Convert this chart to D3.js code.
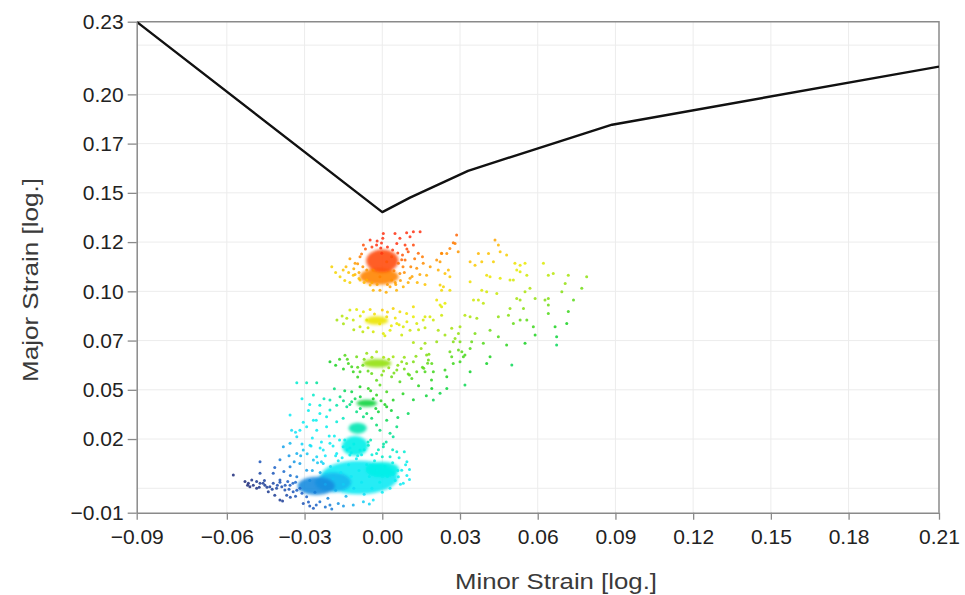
<!DOCTYPE html>
<html>
<head>
<meta charset="utf-8">
<script src="https://cdn.jsdelivr.net/npm/d3@7"></script>
<style>
body { margin: 0; background: #fff; }
svg { display: block; font-family: "Liberation Sans", Arial, sans-serif; }
</style>
</head>
<body>
<div id="chart"></div>
<script>
// axis limits and ticks (the end labels are the rounded limits)
var xDomain = [-0.0948, 0.2149];
var yDomain = [-0.0124, 0.2369];
var xTicks = [-0.0948, -0.06, -0.03, 0, 0.03, 0.06, 0.09, 0.12, 0.15, 0.18, 0.2149];
var xTickLabels = ['\u22120.09', '\u22120.06', '\u22120.03', '0.00', '0.03', '0.06', '0.09', '0.12', '0.15', '0.18', '0.21'];
var xGrid = [-0.06, -0.03, 0, 0.03, 0.06, 0.09, 0.12, 0.15, 0.18];
var yTicks = [-0.0124, 0.025, 0.05, 0.075, 0.1, 0.125, 0.15, 0.175, 0.2, 0.2369];
var yTickLabels = ['\u22120.01', '0.02', '0.05', '0.07', '0.10', '0.12', '0.15', '0.17', '0.20', '0.23'];
var yGrid = [0, 0.025, 0.05, 0.075, 0.1, 0.125, 0.15, 0.175, 0.2, 0.225];

// forming limit curve
var flcMinor = [-0.0948, 0.0, 0.0107, 0.0331, 0.0887, 0.2149];
var flcMajor = [0.2368, 0.1402, 0.1476, 0.1612, 0.1846, 0.2141];

// dense cores of the measured point clouds: [minor, major, half width, half height]
var cores = [
  [-0.009, 0.0055, 0.0150, 0.0085],
  [-0.0190, 0.0030, 0.0070, 0.0050],
  [-0.0255, 0.0012, 0.0072, 0.0046],
  [0.0000, 0.0095, 0.0065, 0.0040],
  [-0.0105, 0.0215, 0.0050, 0.0050],
  [-0.0095, 0.0305, 0.0035, 0.0028],
  [-0.0060, 0.0432, 0.0040, 0.0018],
  [-0.0020, 0.0635, 0.0055, 0.0022],
  [-0.0022, 0.0852, 0.0045, 0.0022],
  [-0.0012, 0.1075, 0.0075, 0.0042],
  [0.0000, 0.1155, 0.0062, 0.0058]
];

var redCloud = [
  [0.0049,0.1293],[0.0094,0.1297],[0.012,0.1302],[0.0146,0.1302],[0.0068,0.1269],[0.0107,0.1277],
  [0.0056,0.1243],[0.0088,0.1235],[0.012,0.1235],[0.0139,0.1193],[0.010,0.1201],[0.0158,0.1142],
  [0.0133,0.1117],[0.0088,0.1159],[0.0171,0.1082],[0.0107,0.1066],[0.0081,0.1023],[0.003,0.1023],
  [-0.0009,0.1006],[-0.0047,0.1032],[-0.0086,0.1057],[-0.0112,0.1082],[-0.0151,0.1108],[-0.0163,0.1074],
  [-0.0073,0.1235],[-0.0047,0.126],[-0.0022,0.1235],[-0.0086,0.1175],[-0.0105,0.1142],[0.0062,0.1142],
  [0.0068,0.1091],[0.0036,0.1057],[-0.006,0.1057],[-0.0002,0.1193],[0.0017,0.115],[-0.0035,0.1108],
  [-0.0009,0.1074],[0.0036,0.1175],[-0.006,0.1108],[0.0004,0.1294],[0.0002,0.127],[-0.0003,0.1245],
  [-0.0006,0.122],[0.0045,0.1105],[-0.0075,0.1125],[0.0078,0.1185],[-0.0125,0.1045],[0.0052,0.1035],
  [-0.011,0.1115],[-0.009,0.1095],[-0.0095,0.114],[-0.008,0.119],[-0.0065,0.1215],[-0.004,0.1225],
  [-0.002,0.1255],[0.002,0.1225],[0.004,0.121],[0.006,0.1195],[0.0075,0.116],[0.008,0.1125],
  [0.0085,0.1095],[0.007,0.1055],[0.005,0.1045],[0.002,0.1035],[-0.002,0.1035],[-0.004,0.1045],
  [-0.007,0.1045],[-0.009,0.1065],[-0.0105,0.1085],[-0.013,0.1095],[-0.014,0.1125],[-0.0125,0.1165],
  [0.011,0.1125],[0.0115,0.1075],[0.010,0.1045],[0.0135,0.1045],[0.0145,0.1085],[0.0125,0.1165],
  [0.0095,0.1215],[-0.0145,0.1055],[-0.018,0.1095],[-0.0195,0.1125],[0.0155,0.1175],[0.0185,0.1125],
  [0.0165,0.1035],[-0.0035,0.1005],[0.0015,0.0995],[0.0055,0.1005]
];

var yellowCloud = [
  [-0.0125,0.0905],[-0.0099,0.0908],[-0.0073,0.0896],[-0.0047,0.0908],[0.0042,0.0913],[0.0068,0.0896],
  [0.0094,0.0888],[0.012,0.0871],[0.0056,0.0837],[0.0081,0.082],[0.003,0.0803],[0.0004,0.0786],
  [-0.0035,0.0795],[-0.0086,0.082],[-0.0112,0.0854],[-0.0137,0.0863],[0.0107,0.0803],[0.0133,0.0837],
  [0.0158,0.0854],[0.0184,0.0871],[0.0017,0.0871],[-0.006,0.0854],[0.0075,0.0778],[0.012,0.0922],
  [-0.0155,0.0875],[-0.015,0.0835],[-0.011,0.0805],[-0.0075,0.0795],[-0.0055,0.0815],[-0.003,0.0885],
  [0.0,0.0905],[0.002,0.0895],[0.005,0.0865],[0.0065,0.083],[0.0035,0.0825],[-0.0085,0.0875],
  [0.0095,0.0845],[0.014,0.0805],[0.0165,0.0815],[-0.0175,0.0855],[0.001,0.0775],[-0.001,0.0835]
];

var limeCloud = [
  [-0.0202,0.0642],[-0.0144,0.0676],[-0.0131,0.0634],[-0.0099,0.0668],[-0.006,0.0685],[-0.0022,0.0693],
  [0.0042,0.0668],[0.0075,0.0642],[0.0094,0.0634],[0.012,0.0642],[0.0056,0.060],[0.0036,0.0566],
  [-0.0002,0.0575],[-0.0041,0.0583],[-0.0086,0.0592],[-0.0112,0.0592],[0.0068,0.0541],[0.0114,0.0558],
  [0.0133,0.0592],[-0.0022,0.0549],[-0.0118,0.0617],[-0.0165,0.0655],[0.0025,0.0612],[-0.0075,0.0625],
  [-0.018,0.0625],[-0.015,0.0605],[-0.0135,0.0655],[-0.0095,0.0615],[-0.007,0.0655],[-0.004,0.0665],
  [0.0005,0.0665],[0.0025,0.0655],[0.006,0.0625],[0.0085,0.0605],[0.0105,0.0575],[0.0155,0.0615],
  [0.0175,0.0635],[-0.0055,0.0595],[0.0005,0.0595],[0.0045,0.0585],[-0.0095,0.0565],[0.0085,0.0665]
];

var greenCloud = [
  [-0.0118,0.049],[-0.0086,0.0515],[-0.0054,0.0507],[-0.0009,0.0524],[0.0017,0.049],[-0.0022,0.0473],
  [-0.0118,0.0439],[-0.0137,0.0414],[-0.0015,0.0388],[-0.006,0.038],[-0.0099,0.0388],[0.0017,0.0414],
  [0.0042,0.0448],[-0.0163,0.0465],[-0.0176,0.0422],[-0.0202,0.0448],[-0.0241,0.0422],[-0.0266,0.0473],
  [-0.033,0.0536],[-0.0292,0.0536],[-0.0253,0.0536],[-0.0202,0.0397],[-0.0215,0.0363],[-0.0241,0.038],
  [-0.0105,0.0455],[-0.0085,0.0465],[-0.0035,0.0455],[-0.0005,0.0445],[0.001,0.0425],[-0.0025,0.0405],
  [-0.0085,0.0405],[-0.0125,0.0425],[-0.015,0.0445],[0.0035,0.0395],[-0.0045,0.0495],[-0.0145,0.0495],
  [-0.0185,0.0505],[-0.0225,0.0455],[-0.028,0.0425],[-0.031,0.0455]
];

var tealCloud = [
  [-0.0176,0.0338],[-0.0151,0.0355],[-0.0041,0.0355],[-0.0022,0.0321],[-0.0009,0.0295],[0.0017,0.0346],
  [0.003,0.0279],[0.0056,0.0312],[-0.0073,0.0363],[-0.0266,0.0346],[-0.0292,0.0312],[-0.0318,0.0295],
  [-0.0253,0.0295],[-0.0215,0.0312],[-0.0356,0.0372],[-0.035,0.0295],[-0.033,0.0262],[-0.0185,0.0265],
  [-0.0145,0.0245],[-0.0055,0.0235],[0.0005,0.0225],[-0.0235,0.0235],[-0.0275,0.0215],[-0.0125,0.0205],
  [-0.0335,0.0285],[-0.0305,0.0335],[-0.0285,0.0395],[-0.0255,0.0345]
];

var cyanCloud = [
  [-0.0382,0.0211],[-0.0356,0.0228],[-0.033,0.0177],[-0.0305,0.0194],[-0.0279,0.0219],[-0.0253,0.016],
  [-0.0228,0.0194],[-0.0202,0.0228],[-0.0176,0.0177],[-0.0151,0.0211],[-0.0125,0.0169],[-0.0086,0.0194],
  [-0.0054,0.0219],[-0.0022,0.0177],[0.0004,0.0211],[0.003,0.016],[0.0056,0.0185],[0.0042,0.0262],
  [0.0075,0.0092],[0.0081,0.0025],[0.0062,0.0058],[-0.0472,0.0135],[-0.0356,0.0109],[-0.0318,0.0126],
  [-0.0292,0.0092],[-0.0266,0.0143],[-0.0228,0.0126],[-0.033,0.0058],
  [-0.028,0.004],[-0.026,-0.002],[-0.024,0.008],[-0.022,0.002],[-0.021,-0.005],[-0.020,0.011],
  [-0.019,0.005],[-0.018,-0.001],[-0.017,0.014],[-0.016,0.008],[-0.015,0.002],[-0.014,-0.004],
  [-0.013,0.012],[-0.012,0.006],[-0.011,0.000],[-0.010,0.015],[-0.009,0.009],[-0.008,0.003],
  [-0.007,-0.003],[-0.006,0.012],[-0.005,0.006],[-0.004,0.000],[-0.003,0.014],[-0.002,0.009],
  [-0.001,0.003],[0.000,-0.002],[0.001,0.011],[0.002,0.006],[0.003,0.000],[0.004,0.013],
  [0.005,0.004],[0.006,0.009],[0.007,0.002],[-0.027,0.009],[-0.025,0.013],[-0.008,0.017],
  [-0.004,0.017],[0.000,0.016],[-0.012,0.018],[0.0095,0.0065],[0.009,0.012],[-0.018,0.0165],
  [-0.036,0.0165],[-0.034,0.0135],[-0.031,0.0225],[-0.029,0.0175],[-0.027,0.0255],[-0.024,0.0205],
  [-0.022,0.0165],[-0.0205,0.0265],[-0.019,0.0215],[-0.0165,0.0245],[-0.0155,0.0155],[-0.0135,0.0195],
  [-0.011,0.0225],[-0.0095,0.0165],[-0.007,0.0195],[-0.0045,0.0245],[-0.0015,0.0195],[0.0015,0.0235],
  [0.004,0.0195],[0.0065,0.0155],[0.0085,0.0185],[0.0095,0.0135],[0.0105,0.0095],[0.0105,0.0045],
  [-0.0395,0.0145],[-0.0415,0.0105],[-0.038,0.0085],[-0.0355,0.0065],[-0.0315,0.0165],[-0.0235,0.0135]
];

var blueTail = [
  [-0.0575,0.0067],[-0.0472,0.0076],[-0.0421,0.0076],[-0.0517,0.0025],[-0.0511,0.0008],[-0.0498,0.0016],
  [-0.0472,0.0025],[-0.0453,0.0016],[-0.0434,0.0008],[-0.0421,0.0025],[-0.0408,0.000],[-0.0388,0.0008],
  [-0.0376,-0.0009],[-0.0356,0.0016],[-0.0344,-0.0018],[-0.0318,0.000],[-0.0395,-0.006],[-0.0369,-0.0035],
  [-0.0292,-0.0043],[-0.0266,-0.0102],[-0.0241,-0.0069],[-0.0305,-0.0077],[-0.0202,-0.0085],[-0.017,-0.0077],
  [-0.0112,-0.0085],[-0.0073,-0.0069],[-0.0035,-0.006],[-0.044,-0.0018],[-0.0485,0.000],[-0.0504,0.0042],
  [-0.0365,0.0035],[-0.0335,0.003],[-0.0395,0.0042],[-0.0455,0.004],[-0.0285,-0.007],[-0.022,-0.0095],
  [-0.053,0.0035],[-0.0485,0.0035],[-0.046,0.0025],[-0.0445,0.0005],[-0.0425,-0.0005],[-0.0405,0.0015],
  [-0.0395,0.003],[-0.0375,0.0015],[-0.036,-0.0005],[-0.0345,0.0025],[-0.033,-0.001],[-0.0335,-0.004],
  [-0.031,-0.0025],[-0.0355,-0.0045],[-0.0415,-0.0035],[-0.0385,-0.0065],[-0.028,-0.009],[-0.0255,-0.0085],
  [-0.0195,-0.0105],[-0.015,-0.009],[-0.005,-0.008],[-0.0475,0.0005],[-0.052,0.0015]
];

var spread = [
  [0.0287,0.1286],[0.0435,0.126],[0.0448,0.1235],[0.0455,0.1201],[0.0274,0.1247],[0.0261,0.1218],
  [0.0249,0.1192],[0.0229,0.1192],[0.0223,0.115],[0.0216,0.1108],[0.0242,0.1091],[0.0261,0.1074],
  [0.0339,0.115],[0.0358,0.1133],[0.0371,0.1192],[0.041,0.1192],[0.0384,0.115],[0.0429,0.115],
  [0.048,0.1184],[0.0512,0.1142],[0.0532,0.1133],[0.0551,0.1142],[0.0519,0.1108],[0.0532,0.1099],
  [0.0558,0.1082],[0.0622,0.1142],[0.0641,0.1082],[0.066,0.1091],[0.0718,0.1082],[0.0789,0.1074],
  [0.0706,0.104],[0.077,0.1015],[0.0693,0.0998],[0.0738,0.0956],[0.0641,0.0964],[0.0628,0.0956],
  [0.059,0.0964],[0.0641,0.093],[0.0641,0.0888],[0.0718,0.0897],[0.0712,0.0837],[0.0667,0.082],
  [0.0673,0.0769],[0.0673,0.0727],[0.059,0.0778],[0.0583,0.082],[0.0558,0.0854],[0.0532,0.0854],
  [0.0506,0.0837],[0.0487,0.0879],[0.0493,0.0913],[0.0519,0.0964],[0.0532,0.0956],[0.0545,0.0913],
  [0.057,0.1015],[0.0551,0.0998],[0.0506,0.1057],[0.0493,0.1057],[0.0455,0.1066],[0.0416,0.1074],
  [0.0403,0.1082],[0.0339,0.1049],[0.0384,0.1006],[0.0403,0.0998],[0.0442,0.0989],[0.0371,0.0956],
  [0.0352,0.0956],[0.039,0.0939],[0.0448,0.0871],[0.0416,0.0803],[0.0358,0.0786],[0.0365,0.0863],
  [0.0339,0.0871],[0.0319,0.0879],[0.030,0.082],[0.0268,0.0812],[0.0294,0.0786],[0.0281,0.0761],
  [0.030,0.0744],[0.0274,0.0744],[0.0223,0.093],[0.0229,0.0922],[0.0229,0.1006],[0.0223,0.1032],
  [0.0197,0.0854],[0.0165,0.0871],[0.0165,0.0736],[0.021,0.0744],[0.0178,0.0651],[0.0191,0.0634],
  [0.0171,0.0677],[0.0197,0.0592],[0.0242,0.060],[0.0249,0.0566],[0.0274,0.0634],[0.030,0.0643],
  [0.0313,0.0668],[0.0307,0.0693],[0.0319,0.0677],[0.0268,0.0668],[0.0261,0.0693],[0.0294,0.0702],
  [0.0339,0.071],[0.0345,0.0744],[0.0339,0.0592],[0.0319,0.0524],[0.039,0.0736],[0.0448,0.0769],
  [0.048,0.0727],[0.0551,0.0736],[0.0416,0.0668],[0.0403,0.0634],[0.050,0.0626],[0.0249,0.0507],
  [0.0223,0.0482],[0.0191,0.0507],[0.0197,0.0448],[0.0165,0.0592],
  [0.021,0.1159],[0.0229,0.1193],[0.0255,0.1108],[0.0236,0.1023],[0.0261,0.1006],[0.0281,0.1243],
  [0.0293,0.1201],[0.021,0.0956],[0.0242,0.0939],[0.0229,0.0879],[0.0216,0.0803],[0.0242,0.0778],
  [0.012,0.074],[0.015,0.071],[0.018,0.068],[0.013,0.067],[0.016,0.061],[0.019,0.055],
  [0.014,0.052],[0.010,0.058],[0.017,0.047],[0.012,0.045],[0.008,0.048],[0.010,0.038],[0.006,0.036]
];

var clouds = [redCloud, yellowCloud, limeCloud, greenCloud, tealCloud, cyanCloud, blueTail, spread];

var W = 965, H = 595;
var svg = d3.select('#chart').append('svg')
    .attr('width', W)
    .attr('height', H);

var x = d3.scaleLinear().domain(xDomain).range([136.7, 939]);
var y = d3.scaleLinear().domain(yDomain).range([512.7, 21.7]);

// jet-like colouring, shifted towards blue where the minor strain is negative
var jet = d3.scaleLinear()
    .domain([-0.06, -0.04, -0.025, -0.01, 0.01, 0.025, 0.04, 0.06, 0.08, 0.095, 0.108, 0.12])
    .range(['#1c2a7a', '#1a5cc4', '#14a0ea', '#10e8f8', '#00f0e8', '#00e090', '#10d020',
            '#8ee010', '#e8ec00', '#ffc000', '#ff7a00', '#ff3010'])
    .clamp(true);
function colorOf(d) {
  var c = d[1] + (d[0] < 0 ? 1.2 * d[0] : -0.6 * d[0]);
  return jet(c);
}

var defs = svg.append('defs');
defs.append('clipPath').attr('id', 'plot')
  .append('rect')
    .attr('x', x(xDomain[0])).attr('y', y(yDomain[1]))
    .attr('width', x(xDomain[1]) - x(xDomain[0]))
    .attr('height', y(yDomain[0]) - y(yDomain[1]));
defs.append('filter').attr('id', 'soft')
    .attr('x', '-50%').attr('y', '-50%').attr('width', '200%').attr('height', '200%')
  .append('feGaussianBlur').attr('stdDeviation', 1.8);

// grid
svg.append('g').selectAll('line')
  .data(xGrid)
  .enter()
  .append('line')
    .attr('x1', function(d){ return x(d); })
    .attr('x2', function(d){ return x(d); })
    .attr('y1', y(yDomain[0]))
    .attr('y2', y(yDomain[1]))
    .attr('stroke', '#ececec');
svg.append('g').selectAll('line')
  .data(yGrid)
  .enter()
  .append('line')
    .attr('y1', function(d){ return y(d); })
    .attr('y2', function(d){ return y(d); })
    .attr('x1', x(xDomain[0]))
    .attr('x2', x(xDomain[1]))
    .attr('stroke', '#ececec');

// frame top and right
svg.append('path')
    .attr('d', 'M' + x(xDomain[0]) + ',' + y(yDomain[1]) + 'H' + x(xDomain[1]) + 'V' + y(yDomain[0]))
    .attr('fill', 'none')
    .attr('stroke', '#8a8a8a')
    .attr('stroke-width', 1.5);

var plot = svg.append('g').attr('clip-path', 'url(#plot)');

// dense cores
plot.append('g').attr('filter', 'url(#soft)')
  .selectAll('ellipse')
  .data(cores)
  .enter()
  .append('ellipse')
    .attr('cx', function(d){ return x(d[0]); })
    .attr('cy', function(d){ return y(d[1]); })
    .attr('rx', function(d){ return x(d[0] + d[2]) - x(d[0]); })
    .attr('ry', function(d){ return y(d[1]) - y(d[1] + d[3]); })
    .attr('fill', colorOf)
    .attr('opacity', 0.9);

// measured points
plot.append('g').selectAll('g')
  .data(clouds)
  .enter()
  .append('g')
  .selectAll('circle')
  .data(function(d){ return d; })
  .enter()
  .append('circle')
    .attr('cx', function(d){ return x(d[0]); })
    .attr('cy', function(d){ return y(d[1]); })
    .attr('r', 1.5)
    .attr('fill', colorOf)
    .attr('opacity', 0.85);

// limit curve
var line = d3.line()
    .x(function(d){ return x(d[0]); })
    .y(function(d){ return y(d[1]); });
plot.append('path')
    .datum(flcMinor.map(function(v, i){ return [v, flcMajor[i]]; }))
    .attr('d', line)
    .attr('fill', 'none')
    .attr('stroke', '#111')
    .attr('stroke-width', 2.4)
    .attr('stroke-linejoin', 'round');

// axes
var xAxis = svg.append('g')
    .attr('transform', 'translate(0,' + y(yDomain[0]) + ')')
    .call(d3.axisBottom(x).tickValues(xTicks)
      .tickFormat(function(d, i){ return xTickLabels[i]; })
      .tickSize(7).tickSizeOuter(0).tickPadding(9));
var yAxis = svg.append('g')
    .attr('transform', 'translate(' + x(xDomain[0]) + ',0)')
    .call(d3.axisLeft(y).tickValues(yTicks)
      .tickFormat(function(d, i){ return yTickLabels[i]; })
      .tickSize(9).tickSizeOuter(0).tickPadding(4));

[xAxis, yAxis].forEach(function(a){
  a.select('.domain').attr('stroke', '#8a8a8a').attr('stroke-width', 1.5);
  a.selectAll('.tick line').attr('stroke', '#8a8a8a').attr('stroke-width', 1.3);
  a.selectAll('.tick text')
    .attr('fill', '#222')
    .style('font-size', '21px')
    .style('font-family', '"Liberation Sans", Arial, sans-serif');
});

// axis titles
svg.append('text')
    .attr('x', 556)
    .attr('y', 589)
    .attr('text-anchor', 'middle')
    .attr('textLength', 202)
    .attr('lengthAdjust', 'spacingAndGlyphs')
    .attr('fill', '#3a3a3a')
    .style('font-size', '22.5px')
    .text('Minor Strain [log.]');
svg.append('text')
    .attr('transform', 'translate(38,280) rotate(-90)')
    .attr('text-anchor', 'middle')
    .attr('textLength', 204)
    .attr('lengthAdjust', 'spacingAndGlyphs')
    .attr('fill', '#3a3a3a')
    .style('font-size', '22.5px')
    .text('Major Strain [log.]');
</script>
</body>
</html>
